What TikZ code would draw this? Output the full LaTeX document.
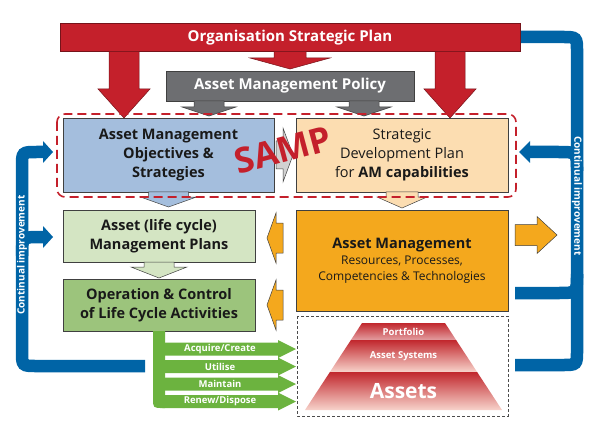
\documentclass[tikz,border=0pt]{standalone}
\usepackage{fontspec}
\setmainfont{Open Sans}

\definecolor{ospred}{HTML}{C4202B}
\definecolor{policygray}{HTML}{6D6E71}
\definecolor{objblue}{HTML}{A4BEDD}
\definecolor{sdppeach}{HTML}{FCDDB1}
\definecolor{plangreen}{HTML}{D4E5C3}
\definecolor{opgreen}{HTML}{9CC47C}
\definecolor{bandgreen}{HTML}{6CB33F}
\definecolor{amorange}{HTML}{F4A81D}
\definecolor{loopblue}{HTML}{0064A6}
\definecolor{pyrdark}{HTML}{C1272D}
\definecolor{pyrlight}{HTML}{F7D3CB}

\begin{document}
\begin{tikzpicture}[x=1pt,y=-1pt,
  box/.style={draw=black!75,line width=0.6pt,outer sep=0pt,inner sep=2pt,align=center,
    text=black!90,font=\fontsize{14.5}{18.5}\selectfont\bfseries},
  banner/.style={box,text=white,font=\fontsize{15}{17}\selectfont\bfseries},
  blockarrow/.style={draw=black!75,line width=0.5pt},
  redarrow/.style={blockarrow,fill=ospred,draw=ospred!60!black},
  grayarrow/.style={blockarrow,fill=policygray},
  bluearrow/.style={blockarrow,fill=objblue},
  peacharrow/.style={blockarrow,fill=sdppeach},
  greenarrow/.style={blockarrow,fill=plangreen},
  orangearrow/.style={blockarrow,fill=amorange},
  lightarrow/.style={blockarrow,fill=black!18},
  loopline/.style={draw=loopblue,line width=12.5pt},
  loophead/.style={fill=loopblue},
  looptext/.style={text=white,font=\fontsize{10}{10}\selectfont\bfseries,inner sep=0pt},
  bandtext/.style={text=white,font=\fontsize{9.5}{10}\selectfont\bfseries,inner sep=0pt},
  tiertext/.style={text=white,font=\fontsize{9.5}{10}\selectfont\bfseries,inner sep=0pt}]
  \useasboundingbox (0,0) rectangle (593,430);

  % continual improvement loops
  \draw[loopline] (145,366) -- (37,366) .. controls (22,366) .. (22,351) -- (22,167)
    .. controls (22,152) .. (37,152) -- (44,152);
  \draw[loopline] (22,256) .. controls (22,237) .. (41,237) -- (44,237);
  \fill[loophead] (43,141) -- (53,152) -- (43,163) -- cycle;
  \fill[loophead] (43,226) -- (53,237) -- (43,248) -- cycle;
  \draw[loopline] (520,37) -- (562,37) .. controls (577,37) .. (577,52) -- (577,350)
    .. controls (577,365) .. (562,365) -- (515,365);
  \draw[loopline] (577,171) .. controls (577,152) .. (558,152) -- (529,152);
  \fill[loophead] (530,141) -- (519,152) -- (530,163) -- cycle;
  \draw[loopline] (577,274) .. controls (577,293) .. (558,293) -- (515,293);
  \node[looptext,rotate=90] (cileft) at (22,255) {Continual improvement};
  \node[looptext,rotate=-90] (ciright) at (577,196) {Continual improvement};

  % boxes
  \node[banner,fill=ospred,draw=ospred!60!black,minimum width=460pt,minimum height=28pt]
    (osp) at (290,37.5) {Organisation Strategic Plan};
  \node[banner,fill=policygray,minimum width=248pt,minimum height=30pt]
    (amp) at (290,86) {Asset Management Policy};
  \node[box,fill=objblue,minimum width=211pt,minimum height=74pt,font=\fontsize{14.5}{19}\selectfont\bfseries]
    (amo) at (168.5,155) {Asset Management\\Objectives \&\\Strategies};
  \node[box,fill=sdppeach,minimum width=212pt,minimum height=74pt,font=\fontsize{14.5}{19}\selectfont]
    (sdp) at (402,155) {Strategic\\Development Plan\\for \textbf{AM capabilities}};
  \node[box,fill=plangreen,minimum width=192pt,minimum height=52pt]
    (amlp) at (159,236) {Asset (life cycle)\\Management Plans};
  \node[box,fill=opgreen,minimum width=192pt,minimum height=52pt]
    (ocl) at (159,305) {Operation \& Control\\of Life Cycle Activities};
  \node[box,fill=amorange,minimum width=212pt,minimum height=101pt,font=\fontsize{12}{16}\selectfont]
    (amr) at (402,260.5) {{\fontsize{14.5}{17}\selectfont\bfseries Asset Management}\\
      Resources, Processes,\\Competencies \& Technologies};

  % block arrows
  \foreach \cx/\ty/\hy/\tip/\sw/\hw/\st in {124/51.5/89/118/15/26/redarrow,
      450/51.5/89/118/15/26/redarrow, 290/51.5/58/69/16/40/redarrow,
      209/101/107/116/15/27/grayarrow, 364/101/107/116/15/27/grayarrow,
      168.5/192/197/207/20/28/bluearrow, 402/192/197/208/16/25/peacharrow,
      159/262/267/278/15/28/greenarrow}
    \draw[\st] ({\cx-\sw},\ty) -- ({\cx+\sw},\ty) -- ({\cx+\sw},\hy) -- ({\cx+\hw},\hy)
      -- (\cx,\tip) -- ({\cx-\hw},\hy) -- ({\cx-\sw},\hy) -- cycle;
  \foreach \cy/\sx/\hx/\tip/\sh/\hh/\st in {238/283/276/267/15/25/orangearrow,
      305/283/276/267/15/25/orangearrow, 155/276/283/293/14/27/lightarrow,
      235/515/537/557/10.5/18.5/orangearrow}
    \draw[\st] (\sx,{\cy-\sh}) -- (\hx,{\cy-\sh}) -- (\hx,{\cy-\hh}) -- (\tip,\cy)
      -- (\hx,{\cy+\hh}) -- (\hx,{\cy+\sh}) -- (\sx,{\cy+\sh}) -- cycle;

  % life cycle activities
  \fill[bandgreen] (153,331) -- (165,331) -- (165,408) -- (163,408)
    .. controls (153,408) .. (153,398) -- cycle;
  \foreach \cy/\lbl in {349/{Acquire/Create}, 366.5/Utilise, 384/Maintain,
      401.5/{Renew/Dispose}} {
    \fill[bandgreen] (160,{\cy-6.5}) -- (278,{\cy-6.5}) -- (278,{\cy-9}) -- (296,\cy)
      -- (278,{\cy+9}) -- (278,{\cy+6.5}) -- (160,{\cy+6.5}) -- cycle;
    \node[bandtext] at (220,\cy) {\lbl};
  }

  % SAMP frame and asset frame
  \draw[draw=ospred,line width=1.6pt,dash pattern=on 9pt off 5pt,rounded corners=8pt]
    (57,114) rectangle (516,197);
  \draw[draw=black!70,line width=0.6pt,dash pattern=on 3pt off 2pt] (297,316) rectangle (508,416);

  % asset pyramid
  \shade[top color=pyrdark,bottom color=pyrdark!45] (362,323) -- (445,323) -- (456.1,340)
    -- (350.9,340) -- cycle;
  \shade[top color=pyrdark,bottom color=pyrlight] (350.9,340) -- (456.1,340) -- (477.1,372)
    -- (329.9,372) -- cycle;
  \shade[top color=pyrdark,bottom color=pyrlight] (329.9,372) -- (477.1,372) -- (502,410)
    -- (305,410) -- cycle;
  \node[tiertext] (portfolio) at (403.5,331.5) {Portfolio};
  \node[tiertext] (assetsys) at (403.5,356) {Asset Systems};
  \node[tiertext,font=\fontsize{21}{22}\selectfont\bfseries] (assetsbig) at (403.5,391) {Assets};

  \node[rotate=15,text=ospred,font=\fontsize{35}{36}\selectfont\bfseries] (sampmark)
    at (283,150) {SAMP};
\end{tikzpicture}
\end{document}
